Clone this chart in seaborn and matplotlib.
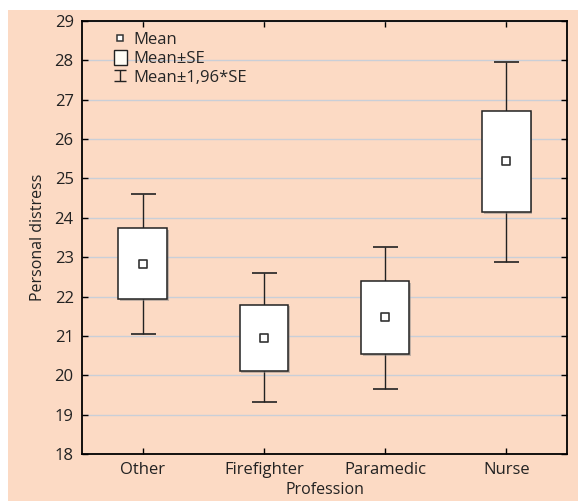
import matplotlib
matplotlib.use("Agg")
import matplotlib.pyplot as plt
import matplotlib.patheffects as pe
from matplotlib.lines import Line2D
from matplotlib.patches import Patch, Rectangle
from matplotlib.legend_handler import HandlerErrorbar
import seaborn as sns
import numpy as np
import pandas as pd

# Values
professions = ["Other", "Firefighter", "Paramedic", "Nurse"]
mean = [22.83, 20.95, 21.49, 25.45]
se_low = [21.93, 20.11, 20.53, 24.14]
se_high = [23.73, 21.79, 22.39, 26.72]
ci_low = [21.06, 19.31, 19.65, 22.89]
ci_high = [24.60, 22.59, 23.27, 27.96]
y_ticks = [18, 19, 20, 21, 22, 23, 24, 25, 26, 27, 28, 29]

df = pd.DataFrame({"Profession": professions, "Mean": mean,
                   "SE_low": se_low, "SE_high": se_high,
                   "CI_low": ci_low, "CI_high": ci_high})
df["x"] = np.arange(len(df))

bg = "#fcdac4"
sns.set_style("ticks")
plt.rcParams["font.family"] = ["Open Sans", "DejaVu Sans"]

fig = plt.figure(figsize=(5.81, 5.01), dpi=100, facecolor="white")
fig.patches.append(Rectangle((8 / 581, 0), 570 / 581, 491 / 501, transform=fig.transFigure,
                             facecolor=bg, edgecolor="none", zorder=-10))
ax = fig.add_axes([82 / 581, 47 / 501, 485 / 581, 433 / 501])
ax.set_facecolor(bg)

# whiskers (Mean +- 1.96*SE)
ax.errorbar(df["x"], df["Mean"],
            yerr=[df["Mean"] - df["CI_low"], df["CI_high"] - df["Mean"]],
            fmt="none", ecolor="#222222", elinewidth=1.0, capsize=9, capthick=1.2, zorder=2)

# boxes (Mean +- SE)
ax.bar(df["x"], df["SE_high"] - df["SE_low"], bottom=df["SE_low"], width=0.4,
       color="white", edgecolor="#222222", linewidth=1.1, zorder=3,
       path_effects=[pe.SimplePatchShadow(offset=(1.2, -1.2), shadow_rgbFace="#888888", alpha=0.5),
                     pe.Normal()])

# means
sns.scatterplot(data=df, x="x", y="Mean", marker="s", s=28, color="white",
                edgecolor="#333333", linewidth=1.2, zorder=4, ax=ax, legend=False)

ax.set_xlim(-0.5, 3.5)
ax.set_ylim(18, 29)
ax.set_yticks(y_ticks)
ax.set_xticks(df["x"])
ax.set_xticklabels(professions)
ax.grid(axis="y", color="#c9cfd8", linewidth=1.0, zorder=0)
ax.set_axisbelow(True)
for s in ax.spines.values():
    s.set_visible(True)
    s.set_color("black")
    s.set_linewidth(1.3)
ax.tick_params(direction="in", length=4, width=1, top=True, right=True,
               labelsize=12, colors="black", labelcolor="#222222", pad=6)
ax.set_xlabel("Profession", fontsize=11.5, color="#222222", labelpad=3)
ax.set_ylabel("Personal distress", fontsize=11.5, color="#222222", labelpad=6)

# legend-only errorbar handle with small caps
leg_err = ax.errorbar([np.nan], [np.nan], yerr=[1], fmt="none", ecolor="#222222",
                      elinewidth=1.0, capsize=4, capthick=1.0)
handles = [Line2D([], [], marker="s", linestyle="none", markersize=5,
                  markerfacecolor="white", markeredgecolor="#333333", markeredgewidth=1.1),
           Patch(facecolor="#fffdf5", edgecolor="#222222", linewidth=1.0),
           leg_err]
ax.legend(handles, ["Mean", "Mean\u00b1SE", "Mean\u00b11,96*SE"], loc="upper left",
          frameon=False, fontsize=12, handlelength=0.8, handleheight=1.0,
          handletextpad=0.4, labelspacing=0.1, borderaxespad=0.2,
          bbox_to_anchor=(0.045, 1.0),
          handler_map={type(leg_err): HandlerErrorbar(yerr_size=0.32)})

fig.savefig("out.png", dpi=100, facecolor="white")
